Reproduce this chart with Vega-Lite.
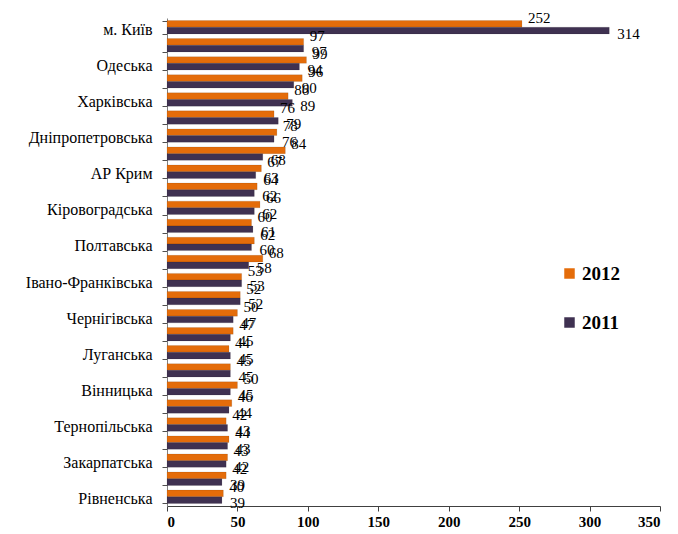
{
  "$schema": "https://vega.github.io/schema/vega-lite/v6.json",
  "width": 493,
  "height": 488,
  "autosize": {"type": "none"},
  "padding": {"left": 167, "top": 18, "right": 18, "bottom": 28},
  "background": "white",
  "config": {
    "view": {"stroke": null},
    "font": "Liberation Serif",
    "axis": {"labelFont": "Liberation Serif"},
    "legend": {"labelFont": "Liberation Serif"},
    "text": {"font": "Liberation Serif"}
  },
  "data": {
    "values": [
      {"region": "м. Київ", "year": "2012", "value": 252}, {"region": "м. Київ", "year": "2011", "value": 314},
      {"region": "Донецька", "year": "2012", "value": 97}, {"region": "Донецька", "year": "2011", "value": 97},
      {"region": "Одеська", "year": "2012", "value": 99}, {"region": "Одеська", "year": "2011", "value": 94},
      {"region": "Київська", "year": "2012", "value": 96}, {"region": "Київська", "year": "2011", "value": 90},
      {"region": "Харківська", "year": "2012", "value": 86}, {"region": "Харківська", "year": "2011", "value": 89},
      {"region": "Львівська", "year": "2012", "value": 76}, {"region": "Львівська", "year": "2011", "value": 79},
      {"region": "Дніпропетровська", "year": "2012", "value": 78}, {"region": "Дніпропетровська", "year": "2011", "value": 76},
      {"region": "Запорізька", "year": "2012", "value": 84}, {"region": "Запорізька", "year": "2011", "value": 68},
      {"region": "АР Крим", "year": "2012", "value": 67}, {"region": "АР Крим", "year": "2011", "value": 63},
      {"region": "Миколаївська", "year": "2012", "value": 64}, {"region": "Миколаївська", "year": "2011", "value": 62},
      {"region": "Кіровоградська", "year": "2012", "value": 66}, {"region": "Кіровоградська", "year": "2011", "value": 62},
      {"region": "Черкаська", "year": "2012", "value": 60}, {"region": "Черкаська", "year": "2011", "value": 61},
      {"region": "Полтавська", "year": "2012", "value": 62}, {"region": "Полтавська", "year": "2011", "value": 60},
      {"region": "Сумська", "year": "2012", "value": 68}, {"region": "Сумська", "year": "2011", "value": 58},
      {"region": "Івано-Франківська", "year": "2012", "value": 53}, {"region": "Івано-Франківська", "year": "2011", "value": 53},
      {"region": "Херсонська", "year": "2012", "value": 52}, {"region": "Херсонська", "year": "2011", "value": 52},
      {"region": "Чернігівська", "year": "2012", "value": 50}, {"region": "Чернігівська", "year": "2011", "value": 47},
      {"region": "Житомирська", "year": "2012", "value": 47}, {"region": "Житомирська", "year": "2011", "value": 45},
      {"region": "Луганська", "year": "2012", "value": 44}, {"region": "Луганська", "year": "2011", "value": 45},
      {"region": "Хмельницька", "year": "2012", "value": 45}, {"region": "Хмельницька", "year": "2011", "value": 45},
      {"region": "Вінницька", "year": "2012", "value": 50}, {"region": "Вінницька", "year": "2011", "value": 45},
      {"region": "Чернівецька", "year": "2012", "value": 46}, {"region": "Чернівецька", "year": "2011", "value": 44},
      {"region": "Тернопільська", "year": "2012", "value": 42}, {"region": "Тернопільська", "year": "2011", "value": 43},
      {"region": "Волинська", "year": "2012", "value": 44}, {"region": "Волинська", "year": "2011", "value": 43},
      {"region": "Закарпатська", "year": "2012", "value": 43}, {"region": "Закарпатська", "year": "2011", "value": 42},
      {"region": "м. Севастополь", "year": "2012", "value": 42}, {"region": "м. Севастополь", "year": "2011", "value": 39},
      {"region": "Рівненська", "year": "2012", "value": 40}, {"region": "Рівненська", "year": "2011", "value": 39}
    ]
  },
  "encoding": {
    "y": {
      "field": "region",
      "type": "nominal",
      "sort": null,
      "scale": {"paddingInner": 0.26, "paddingOuter": 0.14},
      "axis": {
        "title": null,
        "labelFont": "Liberation Serif",
        "labelFontSize": 16,
        "labelColor": "black",
        "labelPadding": 10,
        "labelOffset": 2,
        "tickBand": "extent",
        "tickSize": 5,
        "tickColor": "#505050",
        "domainColor": "#808080",
        "labelExpr": "indexof(['м. Київ','Одеська','Харківська','Дніпропетровська','АР Крим','Кіровоградська','Полтавська','Івано-Франківська','Чернігівська','Луганська','Вінницька','Тернопільська','Закарпатська','Рівненська'], datum.value) >= 0 ? datum.label : ''"
      }
    },
    "yOffset": {"field": "year", "type": "nominal", "sort": ["2012", "2011"]},
    "x": {
      "field": "value",
      "type": "quantitative",
      "scale": {"domain": [0, 350]},
      "axis": {
        "title": null,
        "values": [0, 50, 100, 150, 200, 250, 300, 350],
        "grid": false,
        "labelFont": "Liberation Serif",
        "labelFontSize": 15,
        "labelFontWeight": "bold",
        "labelColor": "black",
        "tickSize": 5,
        "tickColor": "#404040",
        "domainColor": "#404040",
        "labelPadding": 3
      }
    }
  },
  "layer": [
    {
      "mark": {"type": "bar", "stroke": "#00000033", "strokeWidth": 0.5},
      "encoding": {
        "color": {
          "field": "year",
          "type": "nominal",
          "scale": {"domain": ["2012", "2011"], "range": ["#E46C0A", "#3F3151"]},
          "legend": {
            "orient": "none",
            "legendX": 393,
            "legendY": 246,
            "title": null,
            "labelFont": "Liberation Serif",
            "labelFontSize": 19,
            "labelFontWeight": "bold",
            "labelColor": "black",
            "symbolType": "square",
            "symbolSize": 110,
            "symbolStrokeWidth": 0,
            "rowPadding": 29,
            "labelOffset": 3
          }
        }
      }
    },
    {
      "transform": [{"filter": "datum.year == '2012'"}],
      "mark": {"type": "text", "font": "Liberation Serif", "align": "left", "dx": 6, "dy": -6, "fontSize": 15, "color": "black"},
      "encoding": {"text": {"field": "value", "type": "quantitative"}}
    },
    {
      "transform": [{"filter": "datum.year == '2011'"}],
      "mark": {"type": "text", "font": "Liberation Serif", "align": "left", "dx": 8, "dy": 3, "fontSize": 15, "color": "black"},
      "encoding": {"text": {"field": "value", "type": "quantitative"}}
    }
  ]
}
